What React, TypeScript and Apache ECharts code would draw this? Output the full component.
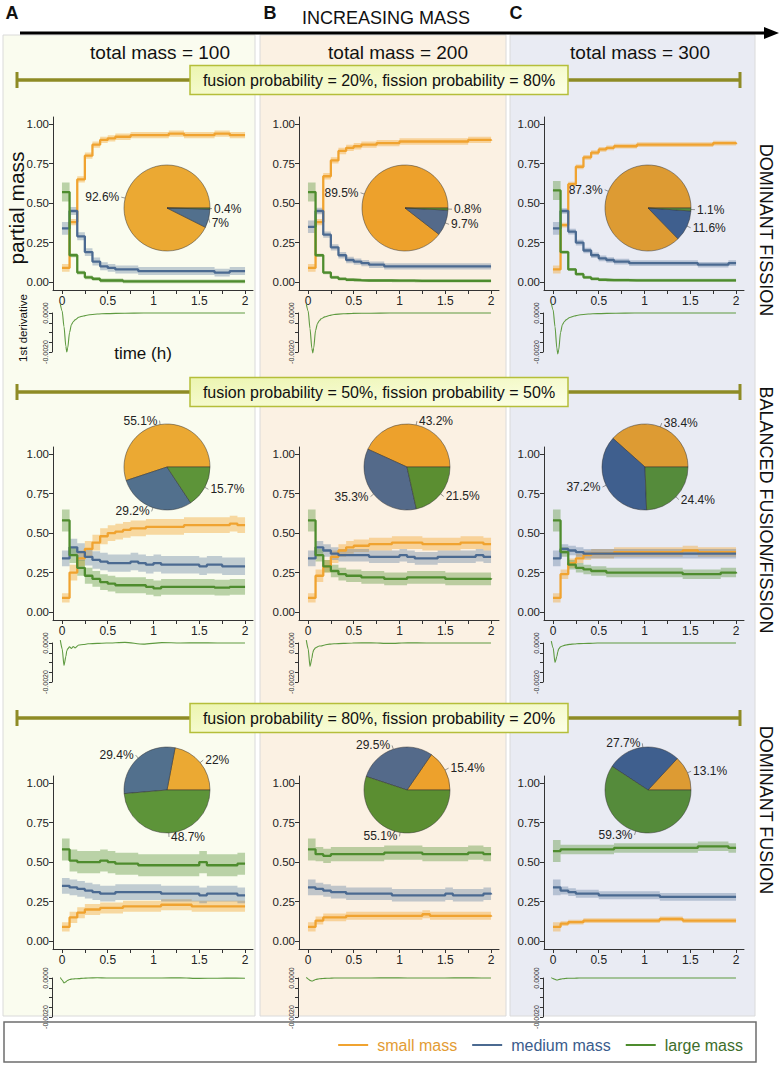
import React, { useEffect, useRef } from 'react';
import * as echarts from 'echarts';

// ---------- data ----------
const TIME = [0, 0.083, 0.167, 0.25, 0.333, 0.417, 0.5, 0.583, 0.667, 0.75, 0.833, 0.917, 1, 1.083, 1.167, 1.25, 1.333, 1.417, 1.5, 1.583, 1.667, 1.75, 1.833, 1.917, 2];
const DERIV_TIME = [0, 0.02, 0.04, 0.06, 0.07, 0.08, 0.1, 0.12, 0.14, 0.16, 0.2, 0.25, 0.3, 0.4, 0.5, 0.7, 0.9, 1.1, 1.3, 1.5, 1.7, 1.9, 2];

const SERIES_NAMES = ['small mass', 'medium mass', 'large mass'];
const COL_TITLES = ['total mass = 100', 'total mass = 200', 'total mass = 300'];
const COL_LETTERS = ['A', 'B', 'C'];
const ROW_TITLES = [
  'fusion probability = 20%, fission probability = 80%',
  'fusion probability = 50%, fission probability = 50%',
  'fusion probability = 80%, fission probability = 20%',
];
const ROW_LABELS = ['DOMINANT FISSION', 'BALANCED FUSION/FISSION', 'DOMINANT FUSION'];
const X_TICKS = [0, 0.25, 0.5, 0.75, 1, 1.25, 1.5, 1.75, 2];
const X_LABELS = [0, 0.5, 1, 1.5, 2];
const Y_TICKS = [0, 0.25, 0.5, 0.75, 1];
const DERIV_TICKS = [-0.002, -0.0015, -0.001, -0.0005, 0];
const DERIV_LABELS = [-0.002, 0];

// dominant fission (row 1)
const fis100Small = [0.09, 0.38, 0.65, 0.80, 0.87, 0.90, 0.91, 0.92, 0.92, 0.93, 0.93, 0.93, 0.93, 0.93, 0.94, 0.94, 0.93, 0.93, 0.93, 0.93, 0.94, 0.94, 0.93, 0.93, 0.93];
const fis100Medium = [0.34, 0.45, 0.29, 0.19, 0.13, 0.10, 0.09, 0.08, 0.08, 0.08, 0.07, 0.07, 0.07, 0.07, 0.07, 0.07, 0.07, 0.07, 0.07, 0.07, 0.06, 0.06, 0.07, 0.07, 0.07];
const fis100Large = [0.57, 0.17, 0.06, 0.03, 0.02, 0.01, 0.01, 0.01, 0.005, 0.005, 0.005, 0.005, 0.004, 0.004, 0.004, 0.004, 0.004, 0.004, 0.004, 0.004, 0.004, 0.004, 0.004, 0.004, 0.004];
const fis200Small = [0.09, 0.38, 0.67, 0.77, 0.83, 0.85, 0.86, 0.87, 0.87, 0.88, 0.88, 0.88, 0.89, 0.89, 0.89, 0.89, 0.89, 0.89, 0.89, 0.89, 0.89, 0.90, 0.90, 0.90, 0.895];
const fis200Medium = [0.35, 0.45, 0.30, 0.22, 0.17, 0.14, 0.13, 0.12, 0.11, 0.11, 0.10, 0.10, 0.10, 0.10, 0.10, 0.10, 0.10, 0.10, 0.10, 0.10, 0.10, 0.10, 0.10, 0.10, 0.097];
const fis200Large = [0.57, 0.17, 0.06, 0.03, 0.02, 0.015, 0.012, 0.01, 0.01, 0.01, 0.01, 0.009, 0.009, 0.009, 0.008, 0.008, 0.008, 0.008, 0.008, 0.008, 0.008, 0.008, 0.008, 0.008, 0.008];
const fis300Small = [0.08, 0.36, 0.62, 0.73, 0.79, 0.82, 0.84, 0.85, 0.86, 0.86, 0.86, 0.87, 0.87, 0.87, 0.87, 0.87, 0.87, 0.87, 0.87, 0.87, 0.87, 0.88, 0.88, 0.88, 0.873];
const fis300Medium = [0.34, 0.45, 0.32, 0.25, 0.20, 0.17, 0.15, 0.14, 0.13, 0.13, 0.12, 0.12, 0.12, 0.12, 0.12, 0.12, 0.12, 0.12, 0.12, 0.11, 0.11, 0.11, 0.11, 0.12, 0.116];
const fis300Large = [0.58, 0.19, 0.08, 0.05, 0.03, 0.02, 0.015, 0.013, 0.012, 0.012, 0.011, 0.011, 0.011, 0.011, 0.011, 0.011, 0.011, 0.011, 0.011, 0.011, 0.011, 0.011, 0.011, 0.011, 0.011];

// balanced fusion/fission (row 2)
const bal100Small = [0.09, 0.25, 0.34, 0.40, 0.44, 0.48, 0.50, 0.51, 0.52, 0.53, 0.53, 0.54, 0.54, 0.54, 0.54, 0.54, 0.55, 0.55, 0.55, 0.55, 0.55, 0.55, 0.56, 0.55, 0.551];
const bal100Medium = [0.34, 0.41, 0.38, 0.35, 0.33, 0.32, 0.31, 0.31, 0.31, 0.32, 0.31, 0.30, 0.31, 0.30, 0.30, 0.30, 0.30, 0.30, 0.29, 0.30, 0.30, 0.29, 0.29, 0.29, 0.292];
const bal100Large = [0.58, 0.36, 0.28, 0.23, 0.21, 0.19, 0.18, 0.17, 0.17, 0.17, 0.17, 0.16, 0.15, 0.16, 0.16, 0.16, 0.16, 0.16, 0.16, 0.16, 0.155, 0.155, 0.16, 0.16, 0.157];
const bal200Small = [0.09, 0.23, 0.29, 0.35, 0.39, 0.41, 0.42, 0.42, 0.43, 0.43, 0.43, 0.44, 0.44, 0.44, 0.44, 0.43, 0.43, 0.43, 0.43, 0.43, 0.44, 0.44, 0.44, 0.43, 0.432];
const bal200Medium = [0.34, 0.41, 0.39, 0.37, 0.36, 0.36, 0.36, 0.36, 0.35, 0.35, 0.35, 0.35, 0.36, 0.35, 0.34, 0.34, 0.34, 0.35, 0.35, 0.35, 0.35, 0.35, 0.36, 0.35, 0.353];
const bal200Large = [0.58, 0.36, 0.29, 0.26, 0.24, 0.23, 0.23, 0.22, 0.22, 0.22, 0.21, 0.21, 0.21, 0.22, 0.22, 0.22, 0.22, 0.22, 0.21, 0.21, 0.21, 0.21, 0.21, 0.21, 0.215];
const bal300Small = [0.09, 0.24, 0.31, 0.34, 0.36, 0.37, 0.37, 0.37, 0.38, 0.38, 0.38, 0.38, 0.38, 0.38, 0.38, 0.38, 0.38, 0.39, 0.39, 0.38, 0.38, 0.38, 0.38, 0.38, 0.384];
const bal300Medium = [0.34, 0.40, 0.39, 0.38, 0.37, 0.37, 0.37, 0.37, 0.37, 0.37, 0.37, 0.37, 0.37, 0.37, 0.37, 0.37, 0.37, 0.37, 0.37, 0.37, 0.37, 0.37, 0.37, 0.37, 0.372];
const bal300Large = [0.58, 0.38, 0.30, 0.28, 0.27, 0.26, 0.26, 0.25, 0.25, 0.25, 0.25, 0.25, 0.25, 0.25, 0.25, 0.25, 0.25, 0.24, 0.24, 0.24, 0.24, 0.24, 0.25, 0.25, 0.244];

// dominant fusion (row 3)
const fus100Small = [0.09, 0.15, 0.18, 0.20, 0.20, 0.21, 0.21, 0.21, 0.22, 0.22, 0.22, 0.22, 0.22, 0.23, 0.23, 0.23, 0.23, 0.22, 0.22, 0.22, 0.22, 0.22, 0.22, 0.22, 0.22];
const fus100Medium = [0.35, 0.34, 0.33, 0.32, 0.31, 0.30, 0.30, 0.31, 0.31, 0.31, 0.31, 0.31, 0.31, 0.30, 0.30, 0.30, 0.30, 0.30, 0.29, 0.30, 0.30, 0.30, 0.30, 0.29, 0.294];
const fus100Large = [0.58, 0.51, 0.50, 0.50, 0.50, 0.51, 0.50, 0.49, 0.49, 0.49, 0.48, 0.48, 0.48, 0.48, 0.48, 0.48, 0.48, 0.48, 0.50, 0.48, 0.48, 0.48, 0.48, 0.49, 0.487];
const fus200Small = [0.09, 0.13, 0.15, 0.15, 0.15, 0.16, 0.16, 0.16, 0.16, 0.16, 0.16, 0.16, 0.16, 0.16, 0.16, 0.17, 0.16, 0.16, 0.16, 0.16, 0.16, 0.16, 0.16, 0.16, 0.154];
const fus200Medium = [0.34, 0.33, 0.32, 0.31, 0.31, 0.30, 0.30, 0.30, 0.30, 0.30, 0.30, 0.29, 0.29, 0.29, 0.29, 0.29, 0.29, 0.29, 0.30, 0.29, 0.29, 0.29, 0.29, 0.30, 0.295];
const fus200Large = [0.58, 0.55, 0.54, 0.55, 0.55, 0.55, 0.55, 0.55, 0.55, 0.55, 0.56, 0.56, 0.56, 0.56, 0.56, 0.55, 0.55, 0.55, 0.55, 0.55, 0.55, 0.56, 0.56, 0.55, 0.551];
const fus300Small = [0.09, 0.11, 0.12, 0.12, 0.13, 0.13, 0.13, 0.13, 0.13, 0.13, 0.13, 0.13, 0.13, 0.13, 0.14, 0.14, 0.14, 0.13, 0.13, 0.13, 0.13, 0.13, 0.13, 0.13, 0.131];
const fus300Medium = [0.34, 0.32, 0.31, 0.30, 0.30, 0.30, 0.29, 0.29, 0.29, 0.29, 0.29, 0.29, 0.29, 0.29, 0.28, 0.28, 0.28, 0.28, 0.28, 0.28, 0.28, 0.28, 0.28, 0.28, 0.277];
const fus300Large = [0.57, 0.58, 0.58, 0.58, 0.58, 0.58, 0.58, 0.58, 0.59, 0.59, 0.59, 0.59, 0.59, 0.59, 0.59, 0.59, 0.59, 0.59, 0.59, 0.60, 0.60, 0.60, 0.60, 0.59, 0.593];

// ribbon half-widths [small, medium, large]: first time point, then the rest
const bandFirstFis = [0.025, 0.04, 0.06];
const bandFirstBal = [0.03, 0.05, 0.07];
const bandFirstFus = [0.03, 0.05, 0.07];
const bandFis100 = [0.02, 0.025, 0.012];
const bandFis200 = [0.02, 0.02, 0.01];
const bandFis300 = [0.015, 0.018, 0.01];
const bandBal100 = [0.05, 0.055, 0.05];
const bandBal200 = [0.04, 0.04, 0.04];
const bandBal300 = [0.03, 0.03, 0.03];
const bandFus100 = [0.035, 0.05, 0.07];
const bandFus200 = [0.025, 0.04, 0.045];
const bandFus300 = [0.015, 0.025, 0.03];

// first derivative of large mass (units of 1e-4)
const derivFis100 = [4.5, 1, -7, -17, -20, -18, -10, -6, -4.5, -3.5, -2.2, -1.5, -1, -0.5, -0.3, -0.1, 0, 0, 0, 0, 0, 0, 0];
const derivFis200 = [4.5, 1, -8, -18, -20.5, -18, -9, -5.5, -4, -3, -2, -1.3, -0.8, -0.4, -0.2, -0.1, 0, 0, 0, 0, 0, 0, 0];
const derivFis300 = [5, 1.5, -7, -18, -21, -19, -10, -6, -4.5, -3.5, -2.3, -1.5, -1, -0.5, -0.3, -0.1, 0, 0, 0, 0, 0, 0, 0];
const derivBal100 = [1.5, -3, -11.5, -7, -4, -3, -2, -2.8, -1.8, -2.5, -1, -0.8, -0.4, -0.2, 0, 0.3, -0.6, 0.2, 0, 0.1, 0, 0, 0];
const derivBal200 = [1.5, -3, -12, -8, -5, -3.5, -2.5, -2, -1.5, -1.5, -1, -0.6, -0.4, -0.2, 0, 0.1, -0.2, 0.1, 0, 0, 0, 0, 0];
const derivBal300 = [1, -2.5, -10, -7, -4.5, -3, -2, -1.5, -1.2, -1, -0.7, -0.5, -0.3, -0.2, 0, 0, 0, 0, 0, 0, 0, 0, 0];
const derivFus100 = [0.3, -1, -2.5, -2, -1.5, -1.2, -0.8, -0.6, -0.5, -0.4, -0.3, -0.1, 0, 0.1, 0, 0, 0, 0, 0.1, -0.2, -0.1, 0, -0.1];
const derivFus200 = [0.3, -0.5, -1.2, -1.5, -1.5, -1.2, -0.8, -0.6, -0.4, -0.3, -0.2, -0.1, 0, 0, 0, 0, 0.1, 0, 0, 0, 0.1, 0, 0];
const derivFus300 = [0.2, -0.3, -0.7, -1, -1, -0.8, -0.6, -0.4, -0.3, -0.2, -0.1, -0.1, 0, 0, 0, 0, 0, 0, 0, 0, 0, 0, 0];

// final partial mass shares (%) [small, medium, large]
const pieFis100 = [92.6, 7, 0.4];
const pieFis200 = [89.5, 9.7, 0.8];
const pieFis300 = [87.3, 11.6, 1.1];
const pieBal100 = [55.1, 29.2, 15.7];
const pieBal200 = [43.2, 35.3, 21.5];
const pieBal300 = [38.4, 37.2, 24.4];
const pieFus100 = [22, 29.4, 48.7];
const pieFus200 = [15.4, 29.5, 55.1];
const pieFus300 = [13.1, 27.7, 59.3];

// ---------- styles / layout ----------
const FONT = "'Liberation Sans', Arial, Helvetica, sans-serif";
const LINE_COLORS = ['#F0A330', '#4B6A91', '#4E8C2E'];
const BAND_COLORS = ['rgba(242,168,50,0.42)', 'rgba(88,118,155,0.36)', 'rgba(98,152,66,0.42)'];
const LEGEND_TEXT = ['#E39C34', '#3A5C8C', '#3D6E2B'];
const PIE_COLORS = [
  ['#EBA933', '#52708D', '#5D9439'],
  ['#EDA12C', '#546A8A', '#5B8E31'],
  ['#DD9B33', '#3F5F8E', '#558B3B'],
];
const COL_BG = ['#FAFCEF', '#FBF1E3', '#E9EBF3'];
const COL_X = [3, 260, 510];
const COL_W = [252, 246, 245];
const GRID_LEFT = [53, 299, 544];
const GRID_TOP = [117, 447, 776];
const DERIV_TOP = [313, 643, 978];
const BAR_Y = [80, 392, 718];
const PIE_CENTERS = [
  [167, 208], [405, 208], [648, 208],
  [167, 467], [407, 467], [645, 467],
  [167, 790], [407, 790], [648, 790],
];
const ROW_LABEL_Y = [230, 510, 810];
const TITLE_X = [160, 398, 640];
const LETTER_X = [12, 270, 516];
const OLIVE = '#8E8B25';

const PANELS = [
  { s: [fis100Small, fis100Medium, fis100Large], band: bandFis100, band0: bandFirstFis, deriv: derivFis100, pie: pieFis100 },
  { s: [fis200Small, fis200Medium, fis200Large], band: bandFis200, band0: bandFirstFis, deriv: derivFis200, pie: pieFis200 },
  { s: [fis300Small, fis300Medium, fis300Large], band: bandFis300, band0: bandFirstFis, deriv: derivFis300, pie: pieFis300 },
  { s: [bal100Small, bal100Medium, bal100Large], band: bandBal100, band0: bandFirstBal, deriv: derivBal100, pie: pieBal100 },
  { s: [bal200Small, bal200Medium, bal200Large], band: bandBal200, band0: bandFirstBal, deriv: derivBal200, pie: pieBal200 },
  { s: [bal300Small, bal300Medium, bal300Large], band: bandBal300, band0: bandFirstBal, deriv: derivBal300, pie: pieBal300 },
  { s: [fus100Small, fus100Medium, fus100Large], band: bandFus100, band0: bandFirstFus, deriv: derivFus100, pie: pieFus100 },
  { s: [fus200Small, fus200Medium, fus200Large], band: bandFus200, band0: bandFirstFus, deriv: derivFus200, pie: pieFus200 },
  { s: [fus300Small, fus300Medium, fus300Large], band: bandFus300, band0: bandFirstFus, deriv: derivFus300, pie: pieFus300 },
];

function txt(text: string, x: number, y: number, size: number, extra: any = {}) {
  const { rotation, align = 'center', vAlign = 'middle', fill = '#111', weight = 'normal', family = FONT, z = 20 } = extra;
  return {
    type: 'text', x, y, rotation: rotation || 0, z, silent: true,
    style: {
      text, fontSize: size, fontFamily: family, fontWeight: weight, fill,
      align, verticalAlign: vAlign, textAlign: align, textVerticalAlign: vAlign,
    },
  };
}

function buildOption() {
  const grids: any[] = [];
  const xAxes: any[] = [];
  const yAxes: any[] = [];
  const series: any[] = [];
  const axisLineStyle = { color: '#333', width: 1 };

  PANELS.forEach((panel, p) => {
    const row = Math.floor(p / 3);
    const col = p % 3;
    grids[p] = { left: GRID_LEFT[col], top: GRID_TOP[row], width: 200, height: 173 };
    grids[9 + p] = { left: GRID_LEFT[col] - 1, top: DERIV_TOP[row], width: 201, height: 39 };
    xAxes[p] = {
      gridIndex: p, type: 'value', min: -0.098, max: 2.087,
      axisLine: { show: true, onZero: false, lineStyle: axisLineStyle },
      axisTick: { show: true, customValues: X_TICKS, length: 4, lineStyle: axisLineStyle },
      axisLabel: { customValues: X_LABELS, formatter: (v: number) => String(v), fontSize: 12, color: '#222', margin: 5, fontFamily: FONT },
      splitLine: { show: false },
    };
    yAxes[p] = {
      gridIndex: p, type: 'value', min: -0.05, max: 1.045,
      axisLine: { show: true, onZero: false, lineStyle: axisLineStyle },
      axisTick: { show: true, customValues: Y_TICKS, length: 4, lineStyle: axisLineStyle },
      axisLabel: { customValues: Y_TICKS, formatter: (v: number) => v.toFixed(2), fontSize: 11.5, color: '#222', margin: 4, fontFamily: FONT },
      splitLine: { show: false },
    };
    xAxes[9 + p] = { gridIndex: 9 + p, type: 'value', min: -0.09, max: 2.087, show: false };
    yAxes[9 + p] = {
      gridIndex: 9 + p, type: 'value', min: -0.002, max: 0,
      axisLine: { show: true, onZero: false, lineStyle: axisLineStyle },
      axisTick: { show: true, customValues: DERIV_TICKS, length: 3, lineStyle: axisLineStyle },
      axisLabel: { customValues: DERIV_LABELS, formatter: (v: number) => (v === 0 ? '0.0000' : v.toFixed(4)), rotate: 90, fontSize: 7, color: '#333', margin: 3, fontFamily: FONT },
      splitLine: { show: false },
    };

    // ribbons
    panel.s.forEach((vals, k) => {
      const n = Math.min(vals.length, TIME.length);
      const hw = (i: number) => (i === 0 ? panel.band0[k] : panel.band[k]);
      series.push({
        type: 'custom', name: 'band', xAxisIndex: p, yAxisIndex: p, silent: true, z: 1,
        data: [[0, 0]],
        renderItem: (_params: any, api: any) => {
          const pts: number[][] = [];
          for (let i = 0; i < n; i++) {
            const t0 = TIME[i];
            const t1 = i + 1 < n ? TIME[i + 1] : TIME[i];
            pts.push(api.coord([t0, vals[i] + hw(i)]));
            pts.push(api.coord([t1, vals[i] + hw(i)]));
          }
          for (let i = n - 1; i >= 0; i--) {
            const t0 = TIME[i];
            const t1 = i + 1 < n ? TIME[i + 1] : TIME[i];
            pts.push(api.coord([t1, vals[i] - hw(i)]));
            pts.push(api.coord([t0, vals[i] - hw(i)]));
          }
          return { type: 'polygon', shape: { points: pts }, style: { fill: BAND_COLORS[k], stroke: 'none' } };
        },
      });
    });
    // lines
    panel.s.forEach((vals, k) => {
      series.push({
        type: 'line', name: SERIES_NAMES[k], xAxisIndex: p, yAxisIndex: p, step: 'end', symbol: 'none', silent: true, z: 3,
        data: TIME.map((t, i) => [t, vals[i]]),
        lineStyle: { color: LINE_COLORS[k], width: 2.3 },
        itemStyle: { color: LINE_COLORS[k] },
      });
    });
    // derivative
    series.push({
      type: 'line', name: 'derivative', xAxisIndex: 9 + p, yAxisIndex: 9 + p, symbol: 'none', silent: true,
      smooth: 0.25, smoothMonotone: 'x', clip: false,
      data: DERIV_TIME.map((t, i) => [t, panel.deriv[i] * 1e-4]),
      lineStyle: { color: '#5E9A40', width: 1.1 },
    });
    // pie
    series.push({
      type: 'pie', name: 'share', center: PIE_CENTERS[p], radius: 43, startAngle: 0, clockwise: false, silent: true,
      avoidLabelOverlap: true, z: 4,
      itemStyle: { borderColor: '#333', borderWidth: 0.5 },
      label: { show: true, position: 'outside', formatter: (d: any) => `${d.value}%`, fontSize: 12, color: '#222', fontFamily: FONT, distanceToLabelLine: 2 },
      labelLine: { show: true, length: 4, length2: 0, lineStyle: { color: '#555', width: 0.6 } },
      data: panel.pie.map((v, k) => ({ name: SERIES_NAMES[k], value: v, itemStyle: { color: PIE_COLORS[col][k] } })),
    });
  });

  const graphics: any[] = [];
  // column backgrounds
  COL_X.forEach((x, c) => {
    graphics.push({ type: 'rect', z: -10, silent: true, shape: { x, y: 35, width: COL_W[c], height: 981 }, style: { fill: COL_BG[c], stroke: '#DADADA', lineWidth: 1 } });
  });
  // arrow + header
  graphics.push({ type: 'line', z: 20, silent: true, shape: { x1: 20, y1: 33, x2: 768, y2: 33 }, style: { stroke: '#000', lineWidth: 3 } });
  graphics.push({ type: 'polygon', z: 20, silent: true, shape: { points: [[764, 27], [779, 33], [764, 39]] }, style: { fill: '#000' } });
  graphics.push(txt('INCREASING MASS', 386, 18, 18));
  COL_LETTERS.forEach((l, c) => graphics.push(txt(l, LETTER_X[c], 13, 18, { weight: 'bold', align: 'center' })));
  COL_TITLES.forEach((t, c) => graphics.push(txt(t, TITLE_X[c], 52, 19)));
  // row bars with captions
  BAR_Y.forEach((y, r) => {
    graphics.push({ type: 'line', z: 15, silent: true, shape: { x1: 17, y1: y, x2: 740, y2: y }, style: { stroke: OLIVE, lineWidth: 3.5 } });
    graphics.push({ type: 'line', z: 15, silent: true, shape: { x1: 17, y1: y - 8, x2: 17, y2: y + 8 }, style: { stroke: OLIVE, lineWidth: 3 } });
    graphics.push({ type: 'line', z: 15, silent: true, shape: { x1: 740, y1: y - 8, x2: 740, y2: y + 8 }, style: { stroke: OLIVE, lineWidth: 3 } });
    graphics.push({
      type: 'rect', z: 16, silent: true, shape: { x: 190, y: y - 14.5, width: 378, height: 29 },
      style: {
        fill: new echarts.graphic.LinearGradient(0, 0, 1, 1, [{ offset: 0, color: '#ECF5B0' }, { offset: 1, color: '#FDFFE8' }]),
        stroke: '#B5BE3A', lineWidth: 1.5,
      },
    });
    graphics.push(txt(ROW_TITLES[r], 379, y + 0.5, 16, { z: 17 }));
    graphics.push(txt(ROW_LABELS[r], 766, ROW_LABEL_Y[r], 18, { rotation: -Math.PI / 2 }));
  });
  // axis captions (panel A, row 1)
  graphics.push(txt('partial mass', 16, 208, 21, { rotation: Math.PI / 2 }));
  graphics.push(txt('1st derivative', 23, 328, 11.5, { rotation: Math.PI / 2 }));
  graphics.push(txt('time (h)', 143, 353, 17));
  // legend frame
  graphics.push({ type: 'rect', z: -5, silent: true, shape: { x: 4, y: 1022, width: 752, height: 40 }, style: { fill: '#fff', stroke: '#6E6E6E', lineWidth: 1.5 } });

  return {
    animation: false,
    backgroundColor: '#ffffff',
    textStyle: { fontFamily: FONT },
    grid: grids,
    xAxis: xAxes,
    yAxis: yAxes,
    legend: {
      right: 34, top: 1032, itemWidth: 30, itemHeight: 2, itemGap: 15, icon: 'rect',
      selectedMode: false,
      textStyle: { fontSize: 16, fontFamily: FONT, padding: [0, 0, 0, 4] },
      data: SERIES_NAMES.map((n, k) => ({ name: n, textStyle: { color: LEGEND_TEXT[k] }, itemStyle: { color: LINE_COLORS[k] } })),
    },
    graphic: { elements: graphics },
    series,
  };
}

export default function App() {
  const ref = useRef<HTMLDivElement>(null);
  useEffect(() => {
    if (!ref.current) return;
    const chart = echarts.init(ref.current, null, { renderer: 'svg', width: 782, height: 1066 });
    chart.setOption(buildOption() as any);
    return () => chart.dispose();
  }, []);
  return <div ref={ref} style={{ position: 'absolute', left: 0, top: 0, width: 782, height: 1066, background: '#fff' }} />;
}
